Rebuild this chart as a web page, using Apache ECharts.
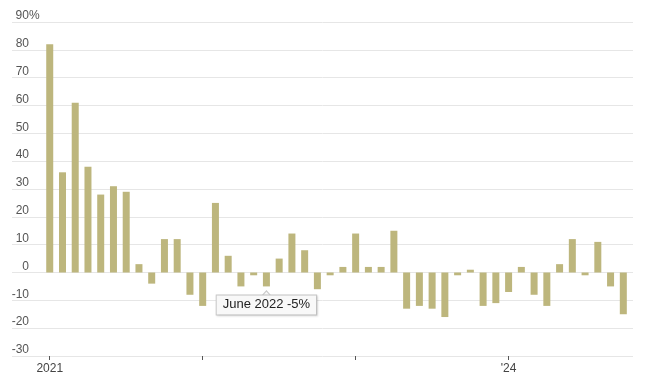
<!DOCTYPE html>
<html>
<head>
<meta charset="utf-8">
<script src="https://cdn.jsdelivr.net/npm/echarts@6/dist/echarts.min.js"></script>
<style>
html,body{margin:0;padding:0;background:#fff;}
#chart{width:650px;height:386px;}
</style>
</head>
<body>
<div id="chart"></div>
<script>
// Monthly categories, Jan 2021 – Oct 2024
var months = ['January','February','March','April','May','June','July','August','September','October','November','December'];
var categories = [];
for (var y = 2021; y <= 2024; y++) {
  for (var m = 0; m < 12; m++) {
    if (y === 2024 && m > 9) break;
    categories.push(months[m] + ' ' + y);
  }
}
// Percent change values
var values = [
  82, 36, 61, 38, 28, 31, 29, 3, -4, 12, 12, -8,
  -12, 25, 6, -5, -1, -5, 5, 14, 8, -6, -1, 2,
  14, 2, 2, 15, -13, -12, -13, -16, -1, 1, -12, -11,
  -7, 2, -8, -12, 3, 12, -1, 11, -5, -15
];
var xTickValues = [0, 12, 24, 36];
var xTickLabels = {0: '2021', 36: "'24"};
var yTicks = [-30, -20, -10, 0, 10, 20, 30, 40, 50, 60, 70, 80, 90];
var highlightIndex = 17; // June 2022

var seriesData = values.map(function (v, i) { return [i, v]; });
var xMin = -2.96, xMax = 45.76;

var chart = echarts.init(document.getElementById('chart'), null, {renderer: 'canvas'});
var font = 'Liberation Sans, Arial, sans-serif';

chart.setOption({
  animation: false,
  grid: {left: 12, right: 17, top: 22, bottom: 30},
  xAxis: {
    type: 'value',
    min: xMin,
    max: xMax,
    axisLine: {show: false, onZero: false},
    splitLine: {show: false},
    axisTick: {show: true, customValues: xTickValues, length: 4, lineStyle: {color: '#555'}},
    axisLabel: {
      customValues: [0, 36],
      formatter: function (v) { return xTickLabels[v] || ''; },
      color: '#444', fontSize: 12, fontFamily: font, margin: 7
    }
  },
  yAxis: {
    type: 'value',
    min: yTicks[0],
    max: yTicks[yTicks.length - 1],
    interval: 10,
    axisLine: {show: false},
    axisTick: {show: false},
    splitLine: {lineStyle: {color: '#e6e6e6', width: 1}},
    axisLabel: {
      inside: true,
      margin: 0,
      align: 'left',
      verticalAlign: 'bottom',
      formatter: function (v) { return v === 90 ? '{w|90%}' : '{n|' + v + '}'; },
      rich: {
        n: {width: 17, align: 'right', color: '#555', fontSize: 12, fontFamily: font, lineHeight: 12},
        w: {align: 'left', padding: [0, 0, 0, 3.6], color: '#555', fontSize: 12, fontFamily: font, lineHeight: 12}
      }
    }
  },
  series: [
    {
      type: 'bar',
      data: seriesData,
      barWidth: 7,
      itemStyle: {color: '#bdb67d'},
      z: 2,
      markLine: {
        silent: true,
        symbol: ['none', 'none'],
        label: {show: false},
        lineStyle: {color: '#777', width: 1, type: 'solid'},
        data: [[{coord: [xMin, 0]}, {coord: [46.6, 0]}]]
      },
      markPoint: {
        silent: true,
        data: [{
          coord: [highlightIndex, values[highlightIndex]],
          symbol: 'rect',
          symbolSize: 0,
          label: {
            show: true,
            position: 'bottom',
            distance: 9,
            formatter: categories[highlightIndex] + ' ' + values[highlightIndex] + '%',
            color: '#222',
            fontSize: 13,
            fontFamily: font,
            lineHeight: 13,
            backgroundColor: '#f8f8f8',
            borderColor: '#c8c8c8',
            borderWidth: 1,
            padding: [3, 6],
            shadowColor: 'rgba(0,0,0,0.12)',
            shadowBlur: 2,
            shadowOffsetX: 1,
            shadowOffsetY: 1
          }
        }]
      }
    },
    {
      type: 'scatter',
      data: [],
      z: 10,
      markPoint: {
        silent: true,
        data: [{
          coord: [highlightIndex, values[highlightIndex]],
          symbol: 'path://M0,5L5,0L10,5',
          symbolSize: [9, 5],
          symbolOffset: [0, 7],
          itemStyle: {color: '#f8f8f8', borderColor: '#c8c8c8', borderWidth: 1},
          label: {show: false}
        }]
      }
    }
  ]
});
</script>
</body>
</html>
